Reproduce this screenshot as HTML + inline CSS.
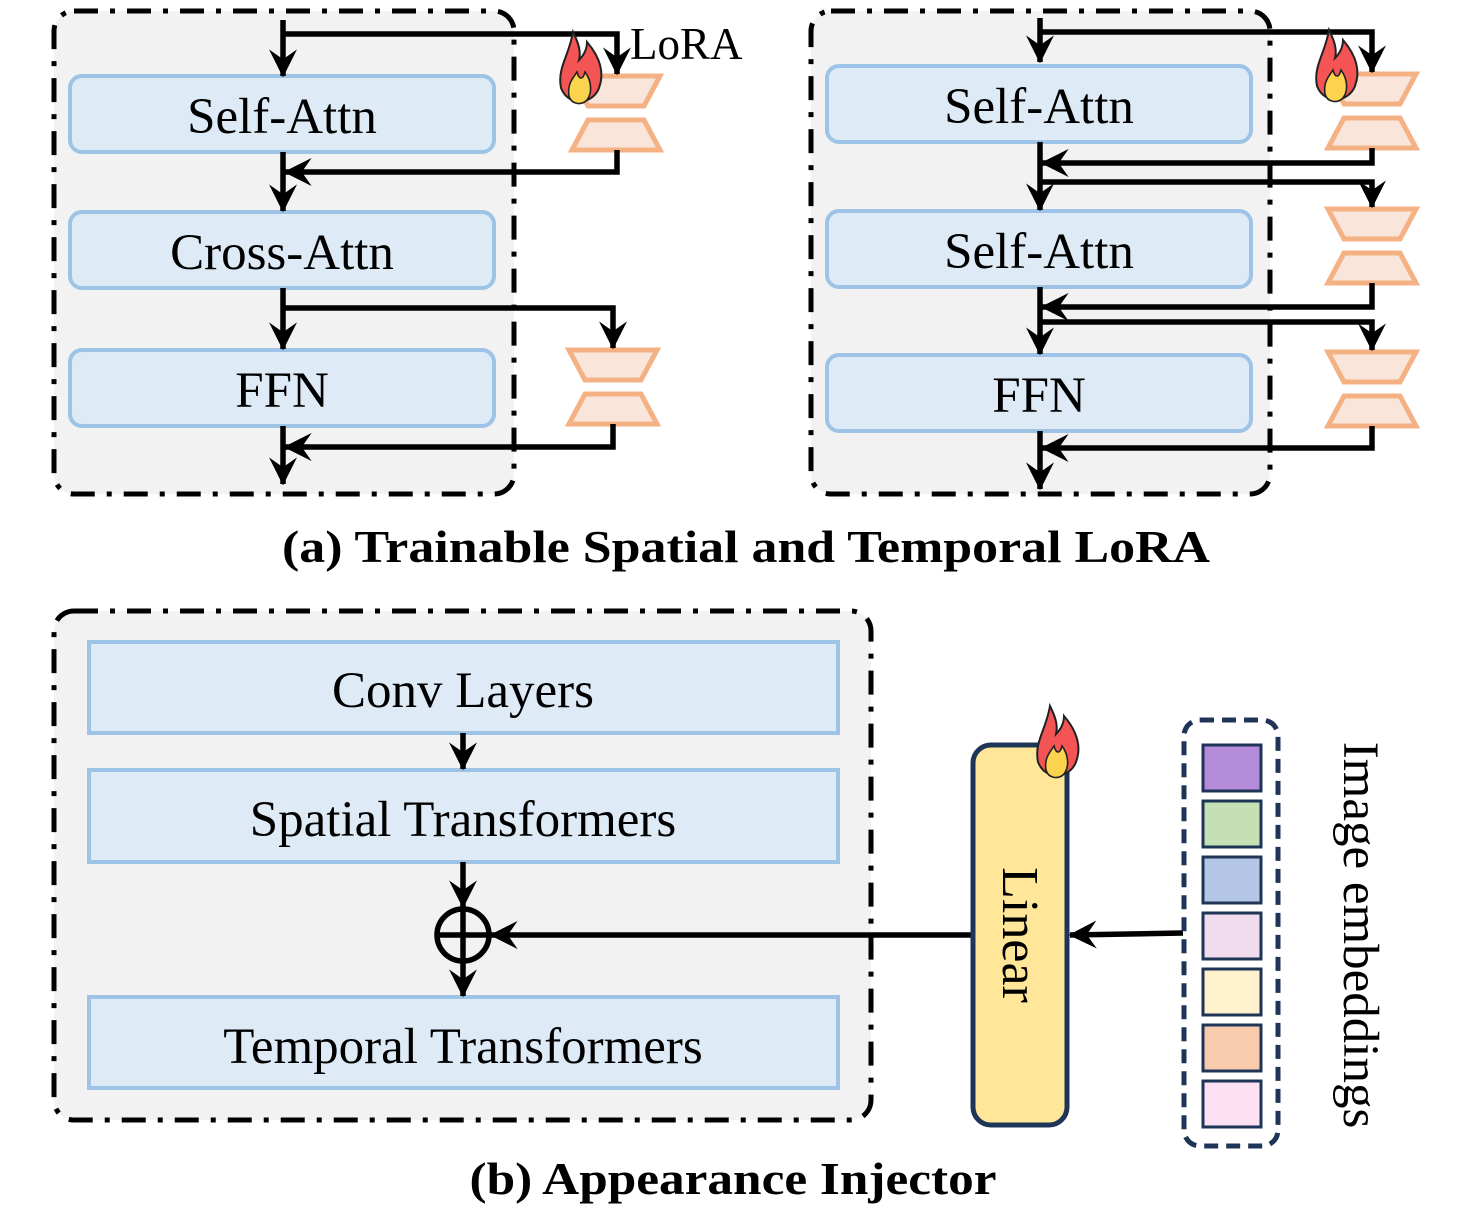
<!DOCTYPE html>
<html><head><meta charset="utf-8"><style>
html,body{margin:0;padding:0;background:#fff;}
svg{display:block;font-family:"Liberation Serif",serif;}
</style></head><body>
<svg width="1462" height="1219" viewBox="0 0 1462 1219" xmlns="http://www.w3.org/2000/svg">
<defs>
<marker id="ar" viewBox="0 0 20 20" refX="19" refY="10" markerWidth="28" markerHeight="28" markerUnits="userSpaceOnUse" orient="auto">
<path d="M0,0 L20,10 L0,20 L7,10 z" fill="#000"/>
</marker>
<g id="fire">
<path d="M0,22 C-2,12 4,6 6,-6 C9,0 10,4 9,8 C12,5 13,2 13,-1 C19,6 22,14 19,22 C16,30 4,32 0,22 z" fill="#f55454" stroke="#222" stroke-width="1"/>
<path d="M4,26 C3,20 6,17 8,14 C9,18 11,18 12,14 C15,18 16,24 13,28 C10,31 5,30 4,26 z" fill="#fcd34d" stroke="#222" stroke-width="0.8"/>
</g>
</defs>
<g stroke="#000" stroke-width="5" stroke-dasharray="24 12 5 12" fill="#f2f2f2">
<rect x="54" y="11" width="460" height="483" rx="20"/>
<rect x="811" y="11" width="459" height="483" rx="20"/>
<rect x="54" y="611" width="817" height="509" rx="20"/>
</g>
<g fill="#deebf7" stroke="#9dc3e6" stroke-width="4">
<rect x="70" y="76" width="424" height="76" rx="12"/>
<rect x="70" y="212" width="424" height="76" rx="12"/>
<rect x="70" y="350" width="424" height="76" rx="12"/>
<rect x="827" y="66" width="424" height="76" rx="12"/>
<rect x="827" y="211" width="424" height="76" rx="12"/>
<rect x="827" y="355" width="424" height="76" rx="12"/>
<rect x="89" y="642" width="749" height="91"/>
<rect x="89" y="770" width="749" height="92"/>
<rect x="89" y="997" width="749" height="91"/>
</g>
<g font-size="51" text-anchor="middle" fill="#000">
<text x="282" y="133">Self-Attn</text>
<text x="282" y="269">Cross-Attn</text>
<text x="282" y="407">FFN</text>
<text x="1039" y="123">Self-Attn</text>
<text x="1039" y="268">Self-Attn</text>
<text x="1039" y="412">FFN</text>
<text x="463" y="707">Conv Layers</text>
<text x="463" y="836">Spatial Transformers</text>
<text x="463" y="1063">Temporal Transformers</text>
</g>
<text x="630" y="59" font-size="45">LoRA</text>
<g fill="#fae5da" stroke="#f4b183" stroke-width="5" stroke-linejoin="miter">
<path d="M572,76 L660,76 L644,106 L588,106 z"/><path d="M588,120 L644,120 L660,150 L572,150 z"/>
<path d="M569,350 L657,350 L641,380 L585,380 z"/><path d="M585,394 L641,394 L657,424 L569,424 z"/>
<path d="M1328,74 L1416,74 L1400,104 L1344,104 z"/><path d="M1344,118 L1400,118 L1416,148 L1328,148 z"/>
<path d="M1328,209 L1416,209 L1400,239 L1344,239 z"/><path d="M1344,253 L1400,253 L1416,283 L1328,283 z"/>
<path d="M1328,352 L1416,352 L1400,382 L1344,382 z"/><path d="M1344,396 L1400,396 L1416,426 L1328,426 z"/>
</g>
<g stroke="#000" stroke-width="5.5" fill="none">
<path d="M283,20 L283,76" marker-end="url(#ar)"/>
<path d="M283,34 L617,34 L617,74" marker-end="url(#ar)"/>
<path d="M617,150 L617,172 L285,172" marker-end="url(#ar)"/>
<path d="M283,152 L283,211" marker-end="url(#ar)"/>
<path d="M283,288 L283,349" marker-end="url(#ar)"/>
<path d="M283,308 L613,308 L613,348" marker-end="url(#ar)"/>
<path d="M613,424 L613,447 L285,447" marker-end="url(#ar)"/>
<path d="M283,426 L283,484" marker-end="url(#ar)"/>
<path d="M1040,18 L1040,62" marker-end="url(#ar)"/>
<path d="M1040,32 L1372,32 L1372,72" marker-end="url(#ar)"/>
<path d="M1372,148 L1372,163 L1042,163" marker-end="url(#ar)"/>
<path d="M1040,182 L1372,182 L1372,207" marker-end="url(#ar)"/>
<path d="M1040,142 L1040,210" marker-end="url(#ar)"/>
<path d="M1372,283 L1372,307 L1042,307" marker-end="url(#ar)"/>
<path d="M1040,322 L1372,322 L1372,350" marker-end="url(#ar)"/>
<path d="M1040,287 L1040,354" marker-end="url(#ar)"/>
<path d="M1372,426 L1372,448 L1042,448" marker-end="url(#ar)"/>
<path d="M1040,431 L1040,489" marker-end="url(#ar)"/>
<path d="M463,733 L463,769" marker-end="url(#ar)"/>
<path d="M463,862 L463,907" marker-end="url(#ar)"/>
<path d="M463,908 L463,996" marker-end="url(#ar)"/>
<circle cx="463" cy="935" r="26"/>
<path d="M437,935 L489,935"/>
<path d="M972,935 L491,935" marker-end="url(#ar)"/>
<path d="M1183,933 L1070,935" marker-end="url(#ar)"/>
</g>
<use href="#fire" transform="translate(561,44) scale(2)"/>
<use href="#fire" transform="translate(1317,42) scale(2)"/>
<rect x="973" y="745" width="94" height="380" rx="18" fill="#ffe699" stroke="#1f3558" stroke-width="5"/>
<use href="#fire" transform="translate(1038,718) scale(2)"/>
<text transform="translate(1003,935) rotate(90)" font-size="52" text-anchor="middle">Linear</text>
<rect x="1184" y="720" width="94" height="426" rx="16" fill="none" stroke="#1f3558" stroke-width="5" stroke-dasharray="14 8"/>
<g stroke="#1f3558" stroke-width="3">
<rect x="1203" y="745" width="58" height="46" fill="#b48cda"/>
<rect x="1203" y="801" width="58" height="46" fill="#c5e0b4"/>
<rect x="1203" y="857" width="58" height="46" fill="#b4c7e7"/>
<rect x="1203" y="913" width="58" height="46" fill="#f0dcec"/>
<rect x="1203" y="969" width="58" height="46" fill="#fff2cc"/>
<rect x="1203" y="1025" width="58" height="46" fill="#f8cbad"/>
<rect x="1203" y="1081" width="58" height="46" fill="#fde0f2"/>
</g>
<text transform="translate(1344,935) rotate(90)" font-size="51" text-anchor="middle">Image embeddings</text>
<text x="746" y="562" font-size="46" font-weight="bold" text-anchor="middle" textLength="928" lengthAdjust="spacingAndGlyphs">(a) Trainable Spatial and Temporal LoRA</text>
<text x="733" y="1194" font-size="46" font-weight="bold" text-anchor="middle" textLength="527" lengthAdjust="spacingAndGlyphs">(b) Appearance Injector</text>
</svg>
</body></html>
